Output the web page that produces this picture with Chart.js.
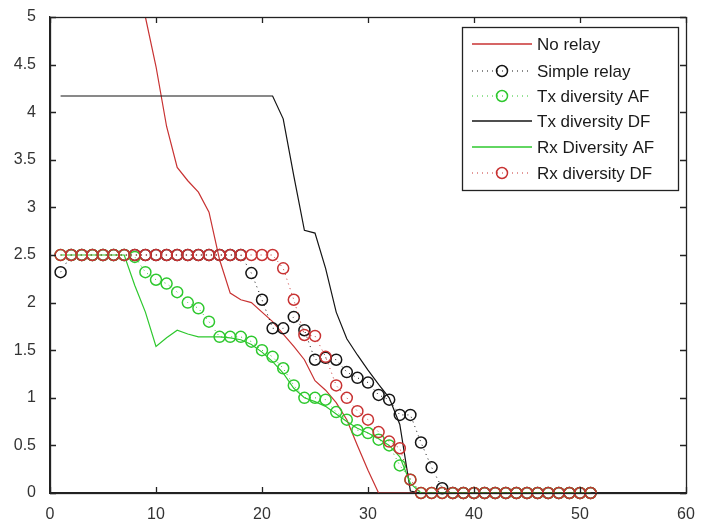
<!DOCTYPE html>
<html><head><meta charset="utf-8">
<script src="https://cdn.jsdelivr.net/npm/chart.js@4"></script>
<style>html,body{margin:0;padding:0;background:#fff}#wrap{width:706px;height:521px}</style>
</head><body><div id="wrap"><canvas id="c" width="706" height="521"></canvas></div>
<script>
// ---- data ----
const xValues = [1,2,3,4,5,6,7,8,9,10,11,12,13,14,15,16,17,18,19,20,21,22,23,24,25,26,27,28,29,30,31,32,33,34,35,36,37,38,39,40,41,42,43,44,45,46,47,48,49,50,51];
const noRelay = [7.9,7.5,7.1,6.8,6.4,6.1,5.8,5.5,5.0,4.48,3.85,3.42,3.28,3.16,2.95,2.45,2.1,2.03,2.0,1.9,1.8,1.67,1.54,1.4,1.18,1.08,0.95,0.77,0.5,0.24,0,0,0,0,0,0,0,0,0,0,0,0,0,0,0,0,0,0,0,0,0];
const simpleRelay = [2.32,2.5,2.5,2.5,2.5,2.5,2.5,2.5,2.5,2.5,2.5,2.5,2.5,2.5,2.5,2.5,2.5,2.5,2.31,2.03,1.73,1.73,1.85,1.71,1.40,1.42,1.40,1.27,1.21,1.16,1.03,0.98,0.82,0.82,0.53,0.27,0.05,0,0,0,0,0,0,0,0,0,0,0,0,0,0];
const txDiversityAF = [2.5,2.5,2.5,2.5,2.5,2.5,2.5,2.48,2.32,2.24,2.2,2.11,2.0,1.94,1.80,1.64,1.64,1.64,1.59,1.50,1.43,1.31,1.13,1.0,1.0,0.98,0.85,0.77,0.66,0.63,0.56,0.5,0.29,0.14,0,0,0,0,0,0,0,0,0,0,0,0,0,0,0,0,0];
const txDiversityDF = [4.17,4.17,4.17,4.17,4.17,4.17,4.17,4.17,4.17,4.17,4.17,4.17,4.17,4.17,4.17,4.17,4.17,4.17,4.17,4.17,4.17,3.93,3.33,2.76,2.73,2.36,1.9,1.62,1.45,1.29,1.14,1.0,0.72,0.02,0,0,0,0,0,0,0,0,0,0,0,0,0,0,0,0,0];
const rxDiversityAF = [2.5,2.5,2.5,2.5,2.5,2.5,2.5,2.18,1.9,1.54,1.63,1.71,1.67,1.64,1.64,1.64,1.63,1.61,1.56,1.48,1.38,1.26,1.1,1.0,0.96,0.91,0.83,0.75,0.68,0.63,0.57,0.5,0.38,0.1,0,0,0,0,0,0,0,0,0,0,0,0,0,0,0,0,0];
const rxDiversityDF = [2.5,2.5,2.5,2.5,2.5,2.5,2.5,2.5,2.5,2.5,2.5,2.5,2.5,2.5,2.5,2.5,2.5,2.5,2.5,2.5,2.5,2.36,2.03,1.66,1.65,1.43,1.13,1.0,0.86,0.77,0.64,0.54,0.47,0.14,0,0,0,0,0,0,0,0,0,0,0,0,0,0,0,0,0];
const seriesLabels = ['No relay','Simple relay','Tx diversity AF','Tx diversity DF','Rx Diversity AF','Rx diversity DF'];
const xTicks = [0,10,20,30,40,50,60];
const yTicks = [0,0.5,1,1.5,2,2.5,3,3.5,4,4.5,5];

// ---- styles ----
const RED = '#c83232', GREEN = '#2ec82e', BLACK = '#141414';
const pts = arr => xValues.map((x,i)=>({x:x,y:arr[i]}));
function lineDs(label, arr, color, order){
  return {label, data:pts(arr), borderColor:color, borderWidth:1.2, pointRadius:0, showLine:true, order, _kind:'line'};
}
function markDs(label, arr, color, order){
  return {label, data:pts(arr), borderColor:color, borderWidth:1, borderDash:[1,4], pointRadius:5.5, pointBorderWidth:1.5,
    pointBorderColor:color, pointBackgroundColor:'rgba(0,0,0,0)', pointStyle:'circle', showLine:true, order, clip:false, _kind:'mark'};
}
const datasets = [
  lineDs(seriesLabels[0], noRelay, RED, 6),
  markDs(seriesLabels[1], simpleRelay, BLACK, 5),
  markDs(seriesLabels[2], txDiversityAF, GREEN, 4),
  lineDs(seriesLabels[3], txDiversityDF, BLACK, 3),
  lineDs(seriesLabels[4], rxDiversityAF, GREEN, 2),
  markDs(seriesLabels[5], rxDiversityDF, RED, 1)
];
const FONT = 'Liberation Sans, Arial, sans-serif';

const framePlugin = {
  id:'frame',
  afterDraw(chart){
    const {ctx, chartArea:a, scales} = chart;
    ctx.save();
    ctx.strokeStyle = '#222'; ctx.lineWidth = 1.3;
    ctx.strokeRect(Math.round(a.left)+0.5, Math.round(a.top)+0.5, Math.round(a.right-a.left), Math.round(a.bottom-a.top));
    const L = 6;
    ctx.beginPath();
    xTicks.forEach(v=>{ const px = Math.round(scales.x.getPixelForValue(v))+0.5;
      ctx.moveTo(px,a.bottom); ctx.lineTo(px,a.bottom-L); ctx.moveTo(px,a.top); ctx.lineTo(px,a.top+L); });
    yTicks.forEach(v=>{ const py = Math.round(scales.y.getPixelForValue(v))+0.5;
      ctx.moveTo(a.left,py); ctx.lineTo(a.left+L,py); ctx.moveTo(a.right,py); ctx.lineTo(a.right-L,py); });
    ctx.stroke();
    // legend
    const bx=462, by=27, bw=216, bh=163;
    ctx.fillStyle='#fff'; ctx.fillRect(bx,by,bw,bh);
    ctx.strokeStyle='#222'; ctx.lineWidth=1.3; ctx.strokeRect(bx+0.5,by+0.5,bw,bh);
    ctx.font = '17px '+FONT; ctx.textBaseline='middle'; ctx.textAlign='left';
    const rows=[44,71,96,121,147,173];
    chart.data.datasets.forEach((ds,i)=>{
      const y=rows[i];
      ctx.strokeStyle=ds.borderColor; ctx.lineWidth= ds._kind==='line'?1.5:1.2;
      ctx.setLineDash(ds._kind==='line'?[]:[1,4]);
      ctx.beginPath(); ctx.moveTo(472,y); ctx.lineTo(532,y); ctx.stroke();
      ctx.setLineDash([]);
      if(ds._kind==='mark'){ ctx.lineWidth=1.5; ctx.beginPath(); ctx.arc(502,y,5.5,0,Math.PI*2); ctx.stroke(); }
      ctx.fillStyle='#1a1a1a'; ctx.fillText(ds.label,537,y+1);
    });
    ctx.restore();
  }
};

new Chart(document.getElementById('c'), {
  type:'line',
  data:{datasets},
  options:{
    responsive:false, animation:false, devicePixelRatio:1,
    layout:{padding:{top:17,right:20,left:0,bottom:0}},
    plugins:{legend:{display:false}, tooltip:{enabled:false}},
    elements:{line:{tension:0}},
    scales:{
      x:{type:'linear', min:0, max:60,
        afterBuildTicks(s){ s.ticks = xTicks.map(v=>({value:v})); },
        afterFit(s){ s.height = 28; },
        grid:{display:false}, border:{display:true,color:'#222',width:1.3},
        ticks:{font:{family:FONT,size:16}, color:'#333', padding:4, maxRotation:0, callback:v=>String(v)}},
      y:{type:'linear', min:0, max:5,
        afterBuildTicks(s){ s.ticks = yTicks.map(v=>({value:v})); },
        afterFit(s){ s.width = 50; },
        grid:{display:false}, border:{display:true,color:'#222',width:1.3},
        ticks:{font:{family:FONT,size:16}, color:'#333', padding:6, callback:v=>String(v)}}
    }
  },
  plugins:[framePlugin]
});
</script></body></html>
